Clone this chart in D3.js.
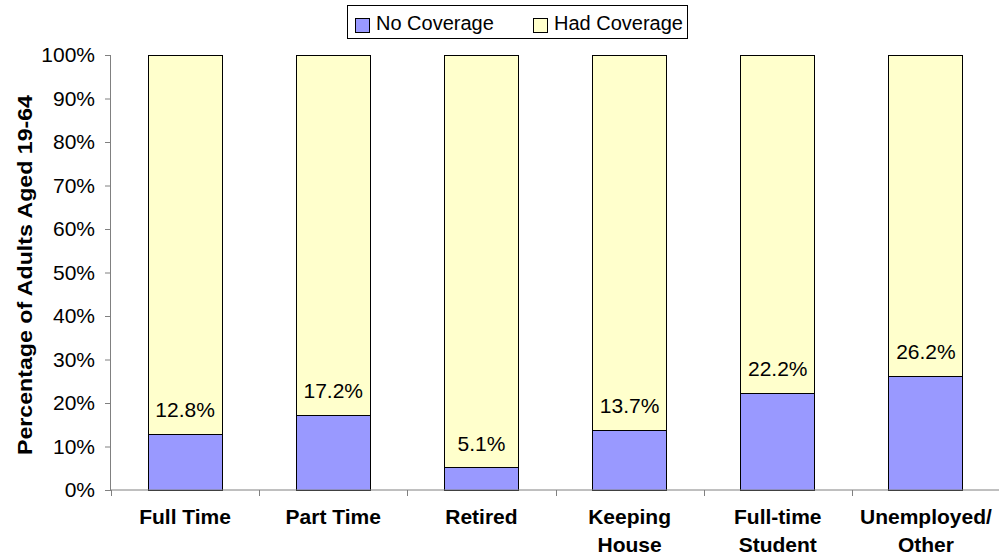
<!DOCTYPE html>
<html>
<head>
<meta charset="utf-8">
<script src="https://cdn.jsdelivr.net/npm/d3@7"></script>
<style>
  body { margin: 0; background: #fff; }
  svg { display: block; font-family: Arial, "Liberation Sans", sans-serif; }
</style>
</head>
<body>
<svg id="chart" width="999" height="557"></svg>
<script>
// categories (two-line labels)
const categories = ['Full Time', 'Part Time', 'Retired', 'Keeping House', 'Full-time Student', 'Unemployed/ Other']
const catLines = [['Full Time'], ['Part Time'], ['Retired'], ['Keeping', 'House'], ['Full-time', 'Student'], ['Unemployed/', 'Other']]
// series values, percent
const noCoverage = [12.8, 17.2, 5.1, 13.7, 22.2, 26.2]
const hadCoverage = noCoverage.map(v => 100 - v)
const seriesNames = ['No Coverage', 'Had Coverage']
const yTicks = [0, 10, 20, 30, 40, 50, 60, 70, 80, 90, 100]

const colors = { 'No Coverage': '#9999ff', 'Had Coverage': '#ffffcc' }

const svg = d3.select('#chart')
const margin = { left: 111, right: -1, top: 55, bottom: 67 }
const W = 999, H = 557
const x = d3.scaleBand().domain(categories).range([margin.left, W - margin.right]).paddingInner(0).paddingOuter(0)
const y = d3.scaleLinear().domain([0, 100]).range([H - margin.bottom, margin.top])
const barW = x.bandwidth() * 0.5

const rows = categories.map((c, i) => ({ cat: c, no: noCoverage[i], had: hadCoverage[i] }))
const stacked = d3.stack().keys(['no', 'had'])(rows)

// bars
const g = svg.append('g')
stacked.forEach((layer, li) => {
  g.selectAll(null)
    .data(layer)
    .enter().append('rect')
    .attr('x', d => x(d.data.cat) + (x.bandwidth() - barW) / 2)
    .attr('y', d => y(d[1]))
    .attr('width', barW)
    .attr('height', d => y(d[0]) - y(d[1]))
    .attr('fill', colors[seriesNames[li]])
    .attr('stroke', '#000')
    .attr('stroke-width', 1)
    .attr('shape-rendering', 'crispEdges')
})

// data labels above blue segment
g.selectAll(null)
  .data(rows)
  .enter().append('text')
  .attr('x', d => x(d.cat) + x.bandwidth() / 2)
  .attr('y', d => y(d.no) - 17)
  .attr('text-anchor', 'middle')
  .attr('font-size', 21)
  .attr('fill', '#000')
  .text(d => d.no.toFixed(1) + '%')

// y axis
const yAxis = d3.axisLeft(y).tickValues(yTicks).tickFormat(d => d + '%').tickSize(6).tickPadding(10)
const ya = svg.append('g').attr('transform', `translate(${margin.left},0)`).call(yAxis)
ya.select('.domain').attr('stroke', '#808080').attr('d', `M-0.5,${y(0)}V${y(100)}`)
ya.selectAll('.tick line').attr('stroke', '#808080')
ya.selectAll('.tick text').attr('font-size', 21).attr('fill', '#000').attr('font-family', 'Arial, "Liberation Sans", sans-serif')

// x axis
const xa = svg.append('g').attr('transform', `translate(0,${y(0)})`)
xa.append('line')
  .attr('x1', margin.left).attr('x2', W)
  .attr('stroke', '#808080')
const bounds = categories.map(c => x(c)).concat([x(categories[categories.length - 1]) + x.bandwidth()])
xa.selectAll(null)
  .data(bounds)
  .enter().append('line')
  .attr('x1', d => Math.round(d) + 0.5).attr('x2', d => Math.round(d) + 0.5)
  .attr('y1', 0).attr('y2', 6)
  .attr('stroke', '#808080')
const xl = xa.selectAll(null)
  .data(catLines)
  .enter().append('text')
  .attr('text-anchor', 'middle')
  .attr('font-size', 21)
  .attr('font-weight', 'bold')
  .attr('fill', '#000')
xl.each(function (lines, i) {
  const t = d3.select(this)
  lines.forEach((l, j) => {
    t.append('tspan')
      .attr('x', x(categories[i]) + x.bandwidth() / 2)
      .attr('y', 34 + j * 28)
      .text(l)
  })
})

// y axis title
svg.append('text')
  .attr('transform', 'translate(32,275) rotate(-90)')
  .attr('text-anchor', 'middle')
  .attr('font-size', 20)
  .attr('font-weight', 'bold')
  .attr('textLength', 360)
  .attr('lengthAdjust', 'spacingAndGlyphs')
  .text('Percentage of Adults Aged 19-64')

// legend
const lg = svg.append('g')
lg.append('rect')
  .attr('x', 347.5).attr('y', 5.5).attr('width', 340).attr('height', 33)
  .attr('fill', '#fff').attr('stroke', '#000')
const legX = [355, 533]
seriesNames.forEach((s, i) => {
  lg.append('rect')
    .attr('x', legX[i] + 0.5).attr('y', 18.5).attr('width', 14).attr('height', 14)
    .attr('fill', colors[s]).attr('stroke', '#000')
  lg.append('text')
    .attr('x', legX[i] + 21).attr('y', 30)
    .attr('font-size', 20)
    .text(s)
})
</script>
</body>
</html>
